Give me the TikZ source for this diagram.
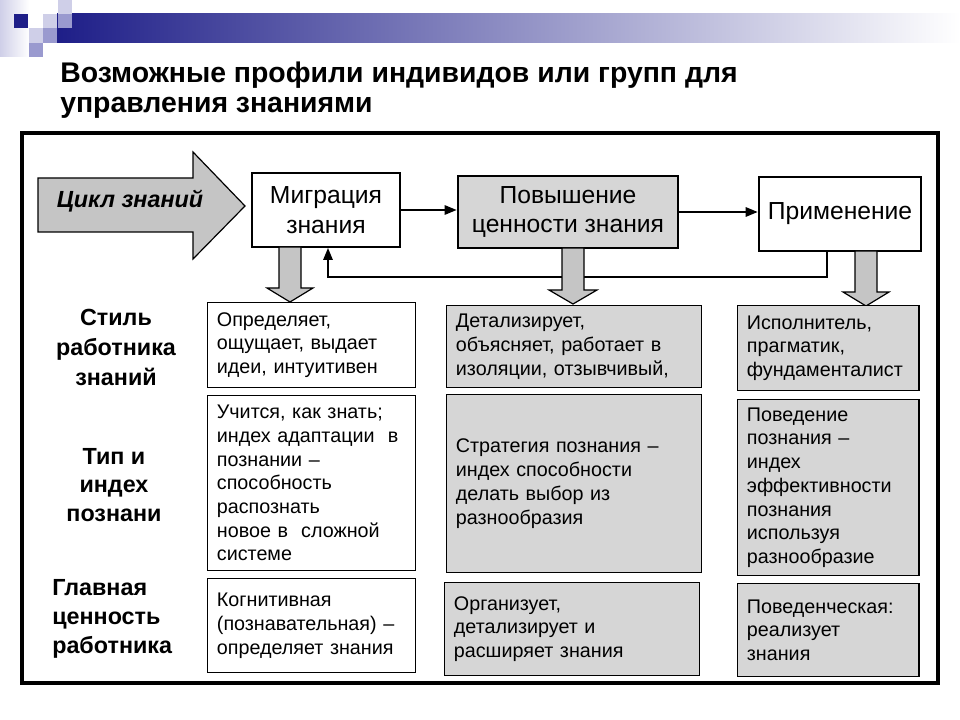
\documentclass[tikz,border=0pt]{standalone}
\usepackage{fontspec}
\setmainfont{Liberation Sans}
\usetikzlibrary{positioning,arrows.meta}
\definecolor{navy}{HTML}{1E1E88}
\definecolor{lav}{HTML}{CFCFE8}
\definecolor{lavmid}{HTML}{9A9ACF}
\definecolor{scan}{HTML}{D6D6D6}

\begin{document}
\begin{tikzpicture}[x=0.75pt, y=-0.75pt,
    stage/.style = {draw, line width=1.4pt, fill=white, align=center, inner sep=0pt, font=\fontsize{18.5}{22}\selectfont},
    cell/.style = {draw, line width=0.9pt, anchor=north west, inner xsep=7pt, inner ysep=0pt, align=left, font=\fontsize{14.8}{17.8}\selectfont},
    shaded/.style = {fill=scan},
    colA/.style = {text width=142pt},
    colB/.style = {text width=177pt},
    colC/.style = {text width=122pt},
    rowlab/.style = {inner sep=0pt, font=\bfseries\fontsize{17.5}{21.5}\selectfont},
    flow/.style = {line width=1.4pt, -{Triangle[length=9pt,width=7pt]}},
    blockarrow/.style = {draw, line width=0.9pt, fill=scan!92!black}]
    \useasboundingbox (0,0) rectangle (960,720);

    % banner
    \shade[left color=lav, right color=white] (0,0) rectangle (29,57);
    \shade[left color=navy, middle color=lavmid, right color=white] (57,14) rectangle (960,43);
    \fill[navy]   (14,14) rectangle (28,28);
    \fill[lav]    (43,14) rectangle (57,28);
    \fill[lav]    (58,0)  rectangle (72,14);
    \fill[lav]    (29,28) rectangle (43,43);
    \fill[lavmid] (58,14) rectangle (72,28);
    \fill[lavmid] (43,28) rectangle (57,43);
    \fill[lavmid] (29,43) rectangle (43,57);

    \node[anchor=north west, inner sep=0pt, align=left, font=\bfseries\fontsize{21.3}{22.5}\selectfont] (title) at (60,62)
        {Возможные профили индивидов или групп для\\управления знаниями};

    \draw[line width=2.3pt] (22,133) rectangle (938,683);

    % knowledge cycle
    \draw[blockarrow] (38,178) -- (193,178) -- (193,152) -- (245,206) -- (193,259) -- (193,232) -- (38,232) -- cycle;
    \node[font=\bfseries\itshape\fontsize{17.5}{20}\selectfont] (cycle) at (130,201) {Цикл знаний};

    \node[stage, minimum width=111pt, minimum height=55.5pt] (migr) at (326,210) {Миграция\\знания};
    \node[stage, shaded, line width=2pt, minimum width=165pt, minimum height=54pt] (pov) at (568,212) {Повышение\\ценности знания};
    \node[stage, minimum width=122pt, minimum height=55.5pt] (prim) at (840,214) {Применение};

    \draw[flow] (migr.east) -- (migr.east -| pov.west);
    \draw[flow] (pov.east) -- (pov.east -| prim.west);
    \coordinate (fbr) at (827,277);
    \coordinate (fbl) at (328,277);
    \draw[flow] (fbr |- prim.south) -- (fbr) -- (fbl) -- (fbl |- migr.south);

    \draw[blockarrow, shift={(290,247)}] (-11,0) -- (11,0) -- (11,41) -- (23,41) -- (0,55) -- (-23,41) -- (-11,41) -- cycle;
    \draw[blockarrow, shift={(573,248)}] (-11,0) -- (11,0) -- (11,42) -- (24,42) -- (0,56) -- (-24,42) -- (-11,42) -- cycle;
    \draw[blockarrow, shift={(866,251)}] (-11,0) -- (11,0) -- (11,41) -- (23,41) -- (0,55) -- (-23,41) -- (-11,41) -- cycle;

    % row headings
    \node[rowlab, align=center, font=\bfseries\fontsize{17.5}{22.5}\selectfont] (style) at (116,347) {Стиль\\работника\\знаний};
    \node[rowlab, align=center] (type)  at (114,485) {Тип и\\индех\\познани};
    \node[rowlab, align=left, anchor=west] (value) at (52,619) {Главная\\ценность\\работника};

    % cells
    \node[cell, colA, minimum height=63.75pt] (a1) at (207,302) {Определяет,\\ощущает, выдает\\идеи, интуитивен};
    \node[cell, colA, minimum height=131.25pt] (a2) at (207,395) {Учится, как знать;\\индех адаптации\ \ в\\познании –\\способность\\распознать\\новое в\ \ сложной\\системе};
    \node[cell, colA, minimum height=70.5pt] (a3) at (207,578) {Когнитивная\\(познавательная) –\\определяет знания};

    \node[cell, colB, shaded, minimum height=61.5pt] (b1) at (446,305) {Детализирует,\\объясняет, работает в\\изоляции, отзывчивый,};
    \node[cell, colB, shaded, minimum height=133.5pt] (b2) at (446,394) {Стратегия познания –\\индех способности\\делать выбор из\\разнообразия};
    \node[cell, colB, shaded, minimum height=69.75pt] (b3) at (444,582) {Организует,\\детализирует и\\расширяет знания};

    \node[cell, colC, shaded, minimum height=63.75pt] (c1) at (737,305) {Исполнитель,\\прагматик,\\фундаменталист};
    \node[cell, colC, shaded, minimum height=132pt] (c2) at (737,399) {Поведение\\познания –\\индех\\эффективности\\познания\\используя\\разнообразие};
    \node[cell, colC, shaded, minimum height=69.75pt] (c3) at (737,583) {Поведенческая:\\реализует\\знания};
\end{tikzpicture}
\end{document}
